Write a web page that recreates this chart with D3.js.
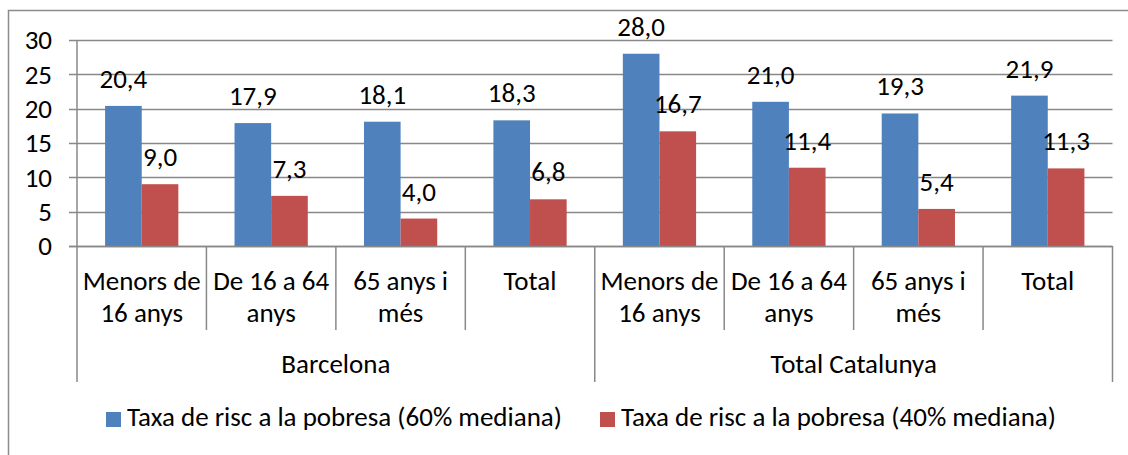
<!DOCTYPE html>
<html><head><meta charset="utf-8">
<script src="https://cdn.jsdelivr.net/npm/d3@7"></script>
<style>
html,body{margin:0;padding:0;background:#fff;}
svg text{font-family:Carlito,Calibri,Lato,sans-serif;fill:#000;}
</style></head>
<body><svg id="c" width="1128" height="455"></svg>
<script>
const groups = ["Barcelona", "Total Catalunya"];
const categories = ["Menors de 16 anys", "De 16 a 64 anys", "65 anys i més", "Total"];
const categoryLines = [["Menors de", "16 anys"], ["De 16 a 64", "anys"], ["65 anys i", "més"], ["Total"]];
const seriesNames = ["Taxa de risc a la pobresa (60% mediana)", "Taxa de risc a la pobresa (40% mediana)"];
const series60 = [20.4, 17.9, 18.1, 18.3, 28.0, 21.0, 19.3, 21.9];
const series40 = [9.0, 7.3, 4.0, 6.8, 16.7, 11.4, 5.4, 11.3];
const yTicks = [0, 5, 10, 15, 20, 25, 30];
const colors = ["#4F81BD", "#C0504D"];

(function () {
const svg = d3.select("#c");
const FS = 27;
const pLeft = 77, pRight = 1112.5, pTop = 40, pBottom = 246;
const gridColor = "#888888";

// outer border
svg.append("rect").attr("x", 8.5).attr("y", 10.5).attr("width", 1300).attr("height", 600)
  .attr("fill", "none").attr("stroke", "#8c8c8c").attr("stroke-width", 1.5);

const slots = [];
groups.forEach((g, gi) => categories.forEach((c, ci) => slots.push({g: gi, c: ci, key: gi + "-" + ci})));

const x0 = d3.scaleBand().domain(slots.map(s => s.key)).range([pLeft, pRight]).padding(0);
const bw = x0.bandwidth();
const x1 = d3.scaleBand().domain([0, 1]).range([bw * 0.217, bw * 0.783]).padding(0);
const y = d3.scaleLinear().domain([0, 30]).range([pBottom, pTop]);

// gridlines + ticks
svg.append("g").selectAll("line").data(yTicks).join("line")
  .attr("x1", pLeft - 8).attr("x2", pRight)
  .attr("y1", d => Math.round(y(d)) + 0.5).attr("y2", d => Math.round(y(d)) + 0.5)
  .attr("stroke", gridColor).attr("stroke-width", 1.5);

svg.append("g").selectAll("text").data(yTicks).join("text")
  .attr("x", 52).attr("y", d => y(d)).attr("dy", "0.35em")
  .attr("text-anchor", "end").attr("font-size", FS).text(d => d);

// y axis line
svg.append("line").attr("x1", pLeft).attr("x2", pLeft).attr("y1", pTop).attr("y2", pBottom)
  .attr("stroke", gridColor).attr("stroke-width", 1.5);

// bars
const fmt = v => d3.format(".1f")(v).replace(".", ",");
const barData = [];
slots.forEach((s, i) => {
  barData.push({key: s.key, si: 0, v: series60[i]});
  barData.push({key: s.key, si: 1, v: series40[i]});
});
svg.append("g").selectAll("rect").data(barData).join("rect")
  .attr("x", d => x0(d.key) + x1(d.si))
  .attr("width", x1.bandwidth())
  .attr("y", d => y(d.v))
  .attr("height", d => y(0) - y(d.v))
  .attr("fill", d => colors[d.si]);

svg.append("g").selectAll("text").data(barData).join("text")
  .attr("x", d => x0(d.key) + x1(d.si) + x1.bandwidth() / 2)
  .attr("y", d => y(d.v) - 18)
  .attr("text-anchor", "middle").attr("font-size", FS)
  .text(d => fmt(d.v));

// x axis line
svg.append("line").attr("x1", pLeft - 8).attr("x2", pRight).attr("y1", pBottom + 0.5).attr("y2", pBottom + 0.5)
  .attr("stroke", gridColor).attr("stroke-width", 1.5);

// category dividers
const inner = [];
slots.forEach((s) => { if (s.c > 0) inner.push(x0(s.key)); });
svg.append("g").selectAll("line").data(inner).join("line")
  .attr("x1", d => d).attr("x2", d => d).attr("y1", pBottom).attr("y2", 330)
  .attr("stroke", gridColor).attr("stroke-width", 1.5);
const outer = [pLeft, x0("1-0"), pRight];
svg.append("g").selectAll("line").data(outer).join("line")
  .attr("x1", d => d).attr("x2", d => d).attr("y1", pBottom).attr("y2", 382)
  .attr("stroke", gridColor).attr("stroke-width", 1.5);

// category labels
const catG = svg.append("g");
slots.forEach(s => {
  const lines = categoryLines[s.c];
  lines.forEach((ln, li) => {
    catG.append("text").attr("x", x0(s.key) + bw / 2).attr("y", 290 + li * 32)
      .attr("text-anchor", "middle").attr("font-size", FS).text(ln);
  });
});

// group labels
groups.forEach((g, gi) => {
  const a = x0(gi + "-0"), b = x0(gi + "-3") + bw;
  svg.append("text").attr("x", (a + b) / 2).attr("y", 373)
    .attr("text-anchor", "middle").attr("font-size", FS).text(g);
});

// legend
const legX = [106, 600];
seriesNames.forEach((n, i) => {
  svg.append("rect").attr("x", legX[i]).attr("y", 412).attr("width", 15).attr("height", 15).attr("fill", colors[i]);
  svg.append("text").attr("x", legX[i] + 21).attr("y", 426).attr("font-size", FS).text(n);
});
})();
</script></body></html>
